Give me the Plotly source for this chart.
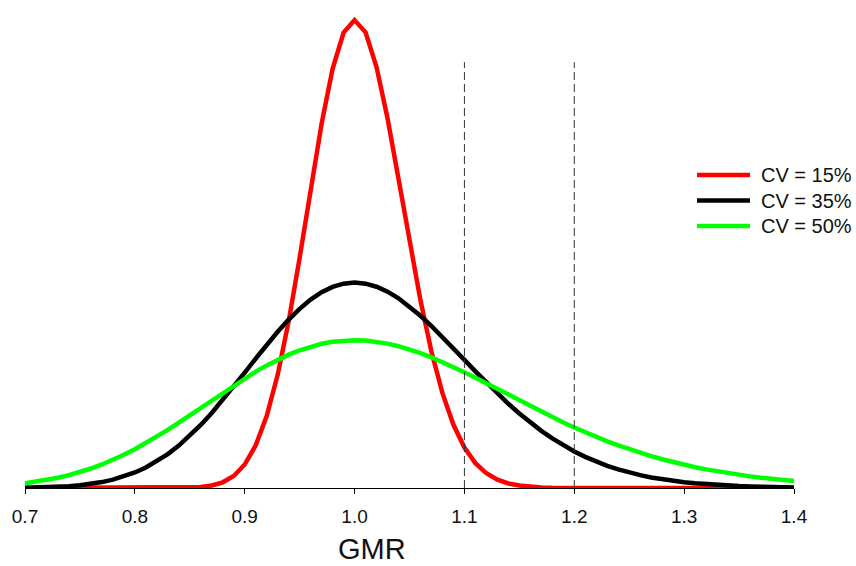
import plotly.graph_objects as go

# GMR grid (0.70 .. 1.40, step 0.01)
gmr = [round(0.70 + 0.01 * i, 2) for i in range(71)]

# Relative density of the GMR estimate for three within-subject CVs
cv15 = [0, 0, 0, 0, 0, 0, 0, 0, 0, 0,
        0, 0, 0, 0.0008, 0.0026, 0.0075, 0.020, 0.050, 0.113, 0.238,
        0.465, 0.843, 1.422, 2.240, 3.300, 4.557, 5.912, 7.213, 8.298, 9.014,
        9.263,
        9.019, 8.334, 7.319, 6.119, 4.877, 3.710, 2.696, 1.877, 1.251, 0.801,
        0.492, 0.291, 0.165, 0.090, 0.048, 0.024, 0.012, 0.006, 0.003, 0.001,
        0, 0, 0, 0, 0, 0, 0, 0, 0, 0,
        0, 0, 0, 0, 0, 0, 0, 0, 0, 0]

cv35 = [0.0055, 0.0092, 0.0150, 0.0238, 0.0367, 0.0553, 0.0814, 0.1172, 0.1649, 0.2271,
        0.3066, 0.4056, 0.5262, 0.6701, 0.8388, 1.032, 1.248, 1.486, 1.741, 2.009,
        2.285, 2.562, 2.834, 3.093, 3.333, 3.547, 3.729, 3.875, 3.981, 4.045,
        4.066,
        4.045, 3.984, 3.886, 3.754, 3.593, 3.409, 3.206, 2.990, 2.765, 2.537,
        2.310, 2.087, 1.872, 1.667, 1.475, 1.295, 1.131, 0.981, 0.845, 0.724,
        0.616, 0.522, 0.439, 0.368, 0.3065, 0.254, 0.2093, 0.1718, 0.1403, 0.1141,
        0.0923, 0.0743, 0.0596, 0.0476, 0.0379, 0.0300, 0.0237, 0.0186, 0.0146, 0.0114]

cv50 = [0.0956, 0.1249, 0.1608, 0.2041, 0.2556, 0.3160, 0.3862, 0.4661, 0.5565, 0.6569,
        0.7672, 0.8866, 1.015, 1.150, 1.292, 1.438, 1.587, 1.737, 1.886, 2.031,
        2.171, 2.304, 2.427, 2.540, 2.640, 2.726, 2.798, 2.854, 2.894, 2.918,
        2.926,
        2.918, 2.895, 2.858, 2.807, 2.745, 2.671, 2.587, 2.495, 2.396, 2.292,
        2.183, 2.071, 1.958, 1.844, 1.730, 1.618, 1.508, 1.401, 1.297, 1.197,
        1.102, 1.010, 0.924, 0.843, 0.767, 0.696, 0.630, 0.569, 0.512, 0.460,
        0.412, 0.368, 0.329, 0.2925, 0.2598, 0.2302, 0.2037, 0.1798, 0.1585, 0.1394]

series_names = ["CV = 15%", "CV = 35%", "CV = 50%"]
series_colors = ["#ff0000", "#000000", "#00ff00"]

tick_vals = [0.7, 0.8, 0.9, 1.0, 1.1, 1.2, 1.3, 1.4]
tick_text = ["0.7", "0.8", "0.9", "1.0", "1.1", "1.2", "1.3", "1.4"]

# Reference limits drawn as dashed vertical lines
limits = [1.1, 1.2]
limit_top = 8.43

FONT = "Liberation Sans, Arial, sans-serif"
TEXT = "#111111"

# Figure geometry (pixels)
W, H = 856, 566
ML, MR, MT, MB = 25, 62, 3, 78
PW, PH = W - ML - MR, H - MT - MB


def px_to_paper(px, py):
    return (px - ML) / PW, (H - MB - py) / PH


fig = go.Figure()
for name, ys, col in zip(series_names, [cv15, cv35, cv50], series_colors):
    fig.add_trace(go.Scatter(
        x=gmr, y=ys, mode="lines", name=name, showlegend=False,
        line=dict(color=col, width=4.5),
    ))

for lim in limits:
    fig.add_shape(type="line", x0=lim, x1=lim, y0=0, y1=limit_top,
                  xref="x", yref="y",
                  line=dict(color="#333333", width=1, dash="8px,4px"))

# Legend: long line samples with labels to their right
leg_x0, leg_x1, leg_tx = 697, 750, 759
leg_y0, leg_dy = 175, 25.5
for i, (name, col) in enumerate(zip(series_names, series_colors)):
    py = leg_y0 + i * leg_dy
    x0, y = px_to_paper(leg_x0, py)
    x1, _ = px_to_paper(leg_x1, py)
    tx, _ = px_to_paper(leg_tx, py)
    fig.add_shape(type="line", xref="paper", yref="paper",
                  x0=x0, x1=x1, y0=y, y1=y,
                  line=dict(color=col, width=4.5))
    fig.add_annotation(xref="paper", yref="paper", x=tx, y=y,
                       xanchor="left", yanchor="middle", showarrow=False,
                       text=name, font=dict(family=FONT, size=20, color=TEXT))

# Axis title
gx, gy = px_to_paper(372, 549)
fig.add_annotation(xref="paper", yref="paper", x=gx, y=gy,
                   xanchor="center", yanchor="middle", showarrow=False,
                   text="GMR", font=dict(family=FONT, size=29, color=TEXT))

fig.update_layout(
    width=W, height=H,
    margin=dict(l=ML, r=MR, t=MT, b=MB),
    paper_bgcolor="white", plot_bgcolor="white",
    font=dict(family=FONT, size=19, color=TEXT),
    showlegend=False,
    xaxis=dict(
        range=[0.7, 1.4], showgrid=False, zeroline=False,
        showline=True, linecolor="black", linewidth=1,
        ticks="outside", ticklen=5, tickcolor="black", tickwidth=1,
        tickvals=tick_vals, ticktext=tick_text,
        tickfont=dict(family=FONT, size=19, color=TEXT),
        ticklabelstandoff=6,
    ),
    yaxis=dict(range=[0, 9.6], visible=False, showgrid=False, zeroline=False),
)

fig.write_html("out.html")
